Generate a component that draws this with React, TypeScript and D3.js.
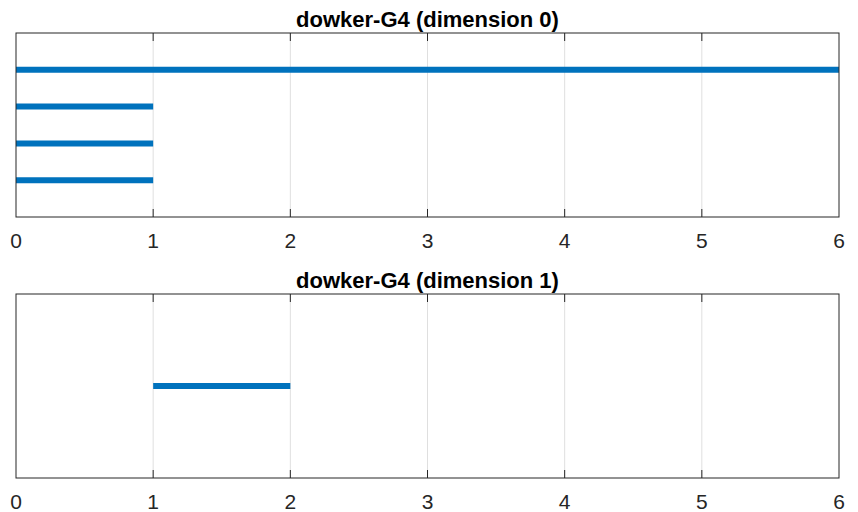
import React, { useRef, useEffect } from "react";
import * as d3 from "d3";

// barcode intervals, Infinity = still alive at the end of the filtration
const dim0Births = [0, 0, 0, 0];
const dim0Deaths = [Infinity, 1, 1, 1];
const dim1Births = [1];
const dim1Deaths = [2];
const xTicks = [0, 1, 2, 3, 4, 5, 6];
const titles = ["dowker-G4 (dimension 0)", "dowker-G4 (dimension 1)"];

const W = 858;
const H = 512;
const blue = "#0072BD";

export default function App() {
  const ref = useRef<SVGSVGElement>(null);

  useEffect(() => {
    const svg = d3.select(ref.current);
    svg.selectAll("*").remove();

    const x = d3.scaleLinear().domain([0, 6]).range([16, 839]);

    const panels = [
      { top: 33, bottom: 217, births: dim0Births, deaths: dim0Deaths, title: titles[0] },
      { top: 294, bottom: 478, births: dim1Births, deaths: dim1Deaths, title: titles[1] },
    ];

    panels.forEach(p => {
      const n = p.births.length;
      const y = d3.scaleLinear().domain([0, n + 1]).range([p.bottom, p.top]);
      const g = svg.append("g");

      // grid
      g.selectAll("line.grid")
        .data(xTicks.slice(1, -1))
        .enter()
        .append("line")
        .attr("x1", d => x(d))
        .attr("x2", d => x(d))
        .attr("y1", p.top)
        .attr("y2", p.bottom)
        .attr("stroke", "#dfdfdf")
        .attr("stroke-width", 1);

      // bars, longest on top
      const bars = p.births.map((b, i) => ({ b, d: p.deaths[i] }));
      g.selectAll("line.bar")
        .data(bars)
        .enter()
        .append("line")
        .attr("x1", d => x(d.b))
        .attr("x2", d => x(Math.min(d.d, 6)))
        .attr("y1", (d, i) => y(n - i))
        .attr("y2", (d, i) => y(n - i))
        .attr("stroke", blue)
        .attr("stroke-width", 6);

      // box
      g.append("rect")
        .attr("x", x(0))
        .attr("y", p.top)
        .attr("width", x(6) - x(0))
        .attr("height", p.bottom - p.top)
        .attr("fill", "none")
        .attr("stroke", "#262626")
        .attr("stroke-width", 1);

      // inward ticks top and bottom
      const tk = xTicks.slice(1, -1);
      g.selectAll("line.tb")
        .data(tk)
        .enter()
        .append("line")
        .attr("x1", d => x(d))
        .attr("x2", d => x(d))
        .attr("y1", p.bottom)
        .attr("y2", p.bottom - 8)
        .attr("stroke", "#262626");
      g.selectAll("line.tt")
        .data(tk)
        .enter()
        .append("line")
        .attr("x1", d => x(d))
        .attr("x2", d => x(d))
        .attr("y1", p.top)
        .attr("y2", p.top + 8)
        .attr("stroke", "#262626");

      // tick labels
      g.selectAll("text.tl")
        .data(xTicks)
        .enter()
        .append("text")
        .attr("x", d => x(d))
        .attr("y", p.bottom + 31)
        .attr("text-anchor", "middle")
        .attr("font-family", "Liberation Sans, Arial, sans-serif")
        .attr("font-size", 21)
        .attr("fill", "#262626")
        .text(d => d);

      g.append("text")
        .attr("x", (x(0) + x(6)) / 2)
        .attr("y", p.top - 6)
        .attr("text-anchor", "middle")
        .attr("font-family", "Liberation Sans, Arial, sans-serif")
        .attr("font-size", 22)
        .attr("font-weight", "bold")
        .attr("fill", "#000")
        .text(p.title);
    });
  }, []);

  return (
    <svg
      ref={ref}
      width={W}
      height={H}
      style={{ position: "absolute", left: 0, top: 0, background: "#fff" }}
    />
  );
}
